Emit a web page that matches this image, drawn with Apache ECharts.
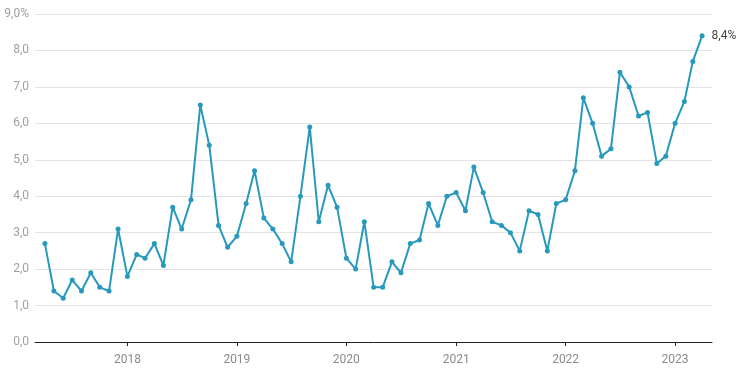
<!DOCTYPE html>
<html>
<head>
<meta charset="utf-8">
<script src="https://cdn.jsdelivr.net/npm/echarts@6/dist/echarts.min.js"></script>
<style>
    html, body { margin: 0; padding: 0; background: #fff; }
    #chart { width: 741px; height: 378px; }
</style>
</head>
<body>
<div id="chart"></div>
<script>
// monthly values, Apr 2017 .. Apr 2023
const startYear = 2017;
const startMonth = 4;
const values = [
    2.7, 1.4, 1.2, 1.7, 1.4, 1.9, 1.5, 1.4, 3.1,
    1.8, 2.4, 2.3, 2.7, 2.1, 3.7, 3.1, 3.9, 6.5, 5.4, 3.2, 2.6,
    2.9, 3.8, 4.7, 3.4, 3.1, 2.7, 2.2, 4.0, 5.9, 3.3, 4.3, 3.7,
    2.3, 2.0, 3.3, 1.5, 1.5, 2.2, 1.9, 2.7, 2.8, 3.8, 3.2, 4.0,
    4.1, 3.6, 4.8, 4.1, 3.3, 3.2, 3.0, 2.5, 3.6, 3.5, 2.5, 3.8,
    3.9, 4.7, 6.7, 6.0, 5.1, 5.3, 7.4, 7.0, 6.2, 6.3, 4.9, 5.1,
    6.0, 6.6, 7.7, 8.4
];
const yTicks = [0, 1, 2, 3, 4, 5, 6, 7, 8, 9];

const data = values.map(function (v, i) {
    const m = startMonth - 1 + i;
    const d = new Date(startYear + Math.floor(m / 12), m % 12, 1);
    return [d.getTime(), v];
});

function fmt(v) {
    return v.toFixed(1).replace('.', ',');
}

const myChart = echarts.init(document.getElementById('chart'));
const YEAR = 365.25 * 24 * 3600 * 1000;

myChart.setOption({
    animation: false,
    grid: { left: 35, right: 29, top: 14, bottom: 36 },
    xAxis: {
        type: 'time',
        min: new Date(2017, 1, 27).getTime(),
        max: new Date(2023, 4, 4).getTime(),
        minInterval: YEAR,
        maxInterval: YEAR,
        axisLine: { lineStyle: { color: '#222', width: 1 } },
        axisTick: { show: true, length: 4, lineStyle: { color: '#222' } },
        axisLabel: {
            formatter: '{yyyy}',
            color: '#8a8a8a',
            fontFamily: 'Roboto',
            fontSize: 12,
            margin: 12,
            hideOverlap: false
        },
        splitLine: { show: false }
    },
    yAxis: {
        type: 'value',
        min: yTicks[0],
        max: yTicks[yTicks.length - 1],
        interval: 1,
        axisLine: { show: false },
        axisTick: { show: false },
        axisLabel: {
            color: '#a0a0a0',
            fontFamily: 'Roboto',
            fontSize: 12,
            margin: 6,
            formatter: function (v) {
                return v === yTicks[yTicks.length - 1] ? fmt(v) + '%' : fmt(v);
            }
        },
        splitLine: { lineStyle: { color: '#e4e4e4', width: 1 } }
    },
    series: [{
        type: 'line',
        data: data,
        symbol: 'circle',
        symbolSize: 5,
        itemStyle: { color: '#2799bd' },
        lineStyle: { color: '#2799bd', width: 2 },
        label: {
            show: true,
            position: 'right',
            distance: 7,
            color: '#444',
            fontFamily: 'Roboto',
            fontSize: 12,
            formatter: function (p) {
                return p.dataIndex === values.length - 1 ? fmt(p.value[1]) + '%' : '';
            }
        }
    }]
});

window.onresize = function () {
    myChart.resize();
};
</script>
</body>
</html>
